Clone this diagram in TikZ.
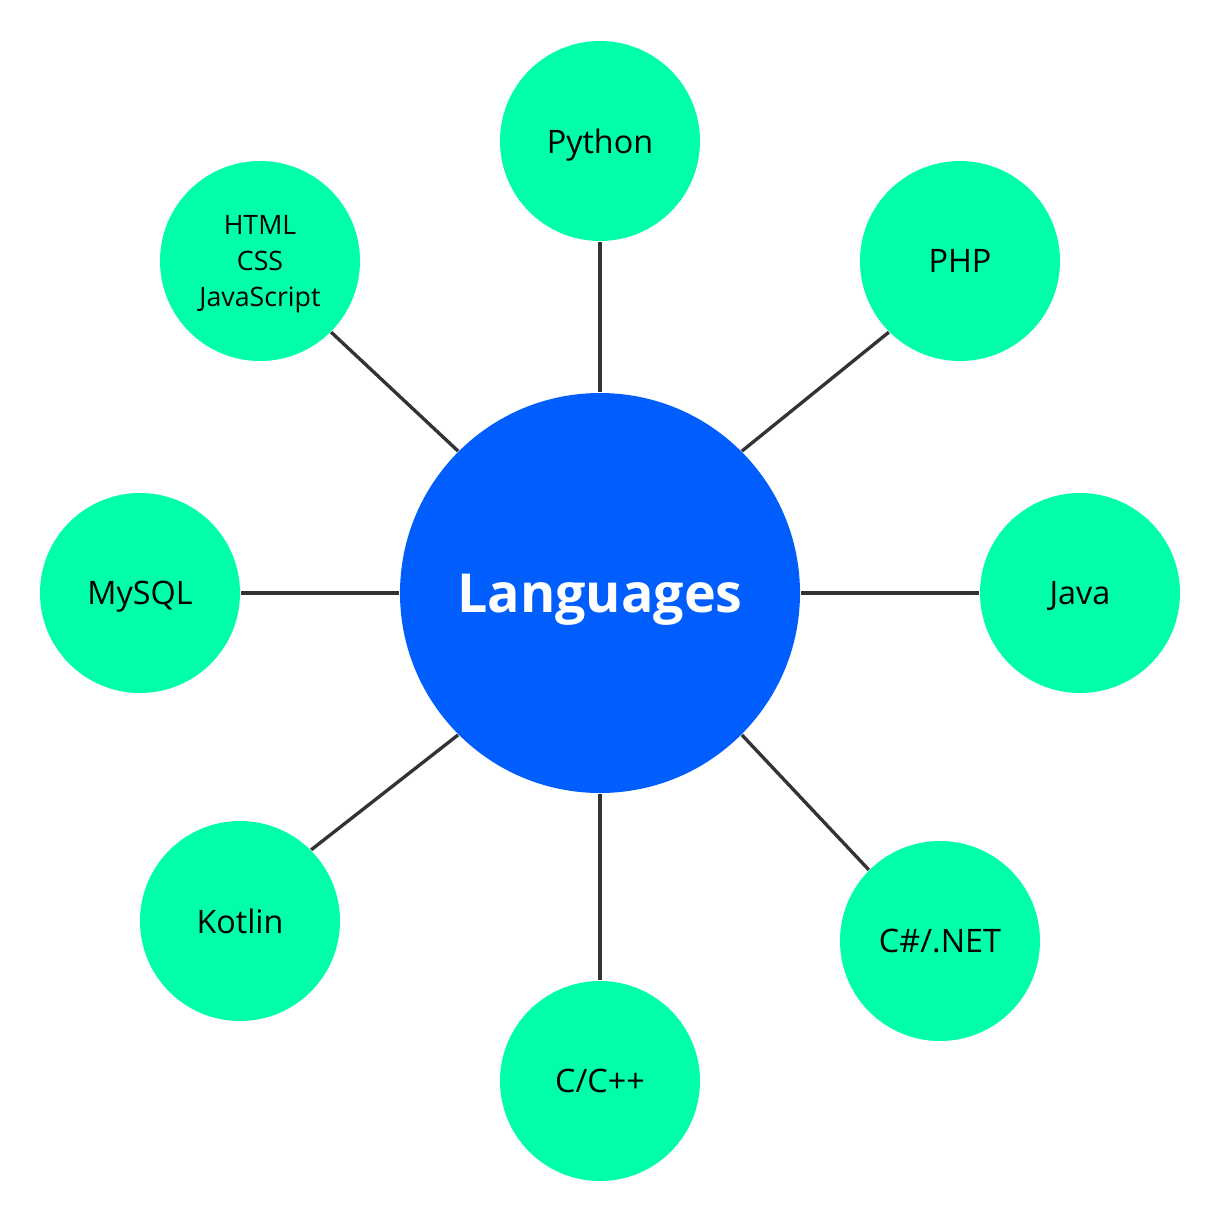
\documentclass[tikz,border=0pt]{standalone}
\usepackage{fontspec}
\setmainfont{Open Sans}
\usepackage{xcolor}
\usepackage{tikz}
\usetikzlibrary{positioning}

\definecolor{hubblue}{HTML}{005EFF}
\definecolor{leafgreen}{HTML}{00FFA7}
\definecolor{linkgray}{HTML}{333333}

\begin{document}
\begin{tikzpicture}[
    hub/.style={circle, fill=hubblue, minimum size=4cm, inner sep=0pt, text depth=0pt,
                text=white, font=\fontsize{15.3}{19}\selectfont\bfseries},
    leaf/.style={circle, fill=leafgreen, minimum size=2cm, inner sep=0pt, text depth=0pt,
                 align=center, font=\fontsize{9.2}{11}\selectfont},
    link/.style={line width=0.95pt, linkgray}
]

% --- canvas ---
\useasboundingbox (0,0) rectangle (12.2,-12.2);
\fill[white] (0,0) rectangle (12.2,-12.2);

% --- Hub ---
\node[hub] (lang) at (6.00,-5.93) {Languages};

% --- Leaves ---
\node[leaf] (python) at (6.00,-1.41) {Python};
\node[leaf] (php)    at (9.60,-2.61) {PHP};
\node[leaf] (java)   at (10.80,-5.93) {Java};
\node[leaf] (csharp) at (9.40,-9.41) {C\#/.NET};
\node[leaf] (cpp)    at (6.00,-10.81) {C/C++};
\node[leaf] (kotlin) at (2.40,-9.21) {Kotlin};
\node[leaf] (mysql)  at (1.40,-5.93) {MySQL};
\node[leaf, font=\fontsize{7.6}{10.2}\selectfont] (web) at (2.60,-2.61) {HTML\\CSS\\JavaScript};

% --- Links: straight ---
\foreach \leafname in {python,java,cpp,mysql}
    \draw[link] (lang) -- (\leafname);

% --- Links: diagonal ---
\draw[link] (lang.45)  -- (php.225);
\draw[link] (lang.135) -- (web.315);
\draw[link] (lang.225) -- (kotlin.45);
\draw[link] (lang.315) -- (csharp.135);

\end{tikzpicture}
\end{document}
